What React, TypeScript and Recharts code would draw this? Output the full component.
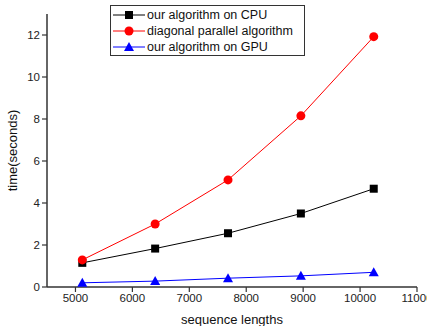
import React from 'react';
import { LineChart, Line, XAxis, YAxis } from 'recharts';

const lengths = [5120, 6400, 7680, 8960, 10240];
const cpuTimes = [1.15, 1.83, 2.56, 3.5, 4.68];
const diagonalTimes = [1.29, 3.0, 5.1, 8.15, 11.92];
const gpuTimes = [0.2, 0.28, 0.42, 0.53, 0.7];
const seriesNames = ['our algorithm on CPU', 'diagonal parallel algorithm', 'our algorithm on GPU'];
const xMajorTicks = [5000, 6000, 7000, 8000, 9000, 10000, 11000];
const xMinorTicks = [4500, 5500, 6500, 7500, 8500, 9500, 10500];
const yMajorTicks = [0, 2, 4, 6, 8, 10, 12];
const yMinorTicks = [1, 3, 5, 7, 9, 11, 13];

const data = lengths.map((len, i) => ({
  len,
  cpu: cpuTimes[i],
  diag: diagonalTimes[i],
  gpu: gpuTimes[i],
}));

const FONT = 'Liberation Sans, Arial, sans-serif';
const AXIS = '#333';

const Square = (props: any) => {
  const { cx, cy } = props;
  if (cx == null || cy == null) return null;
  return <rect x={cx - 4} y={cy - 4} width={8} height={8} fill="#000" />;
};
const Circle = (props: any) => {
  const { cx, cy } = props;
  if (cx == null || cy == null) return null;
  return <circle cx={cx} cy={cy} r={4.5} fill="#ff0000" />;
};
const Triangle = (props: any) => {
  const { cx, cy } = props;
  if (cx == null || cy == null) return null;
  return <polygon points={`${cx},${cy - 5} ${cx - 5},${cy + 4} ${cx + 5},${cy + 4}`} fill="#0000ff" />;
};

const legendItems = [
  { name: seriesNames[0], color: '#000', marker: 'square' },
  { name: seriesNames[1], color: '#ff0000', marker: 'circle' },
  { name: seriesNames[2], color: '#0000ff', marker: 'triangle' },
];

const LegendBox = () => (
  <div
    style={{
      position: 'absolute',
      left: 110,
      top: 5,
      border: '1px solid #333',
      width: 195,
      height: 51,
      background: '#fff',
      fontFamily: FONT,
      fontSize: 12.5,
      color: '#111',
      boxSizing: 'border-box',
      paddingTop: 1,
    }}
  >
    {legendItems.map((it) => (
      <div key={it.name} style={{ display: 'flex', alignItems: 'center', height: 16, whiteSpace: 'nowrap' }}>
        <svg width={34} height={12} style={{ marginLeft: 1 }}>
          <line x1={1} y1={6} x2={33} y2={6} stroke={it.color} strokeWidth={1} />
          {it.marker === 'square' && <rect x={13} y={2} width={8} height={8} fill={it.color} />}
          {it.marker === 'circle' && <circle cx={17} cy={6} r={4.5} fill={it.color} />}
          {it.marker === 'triangle' && <polygon points="17,1 12,10 22,10" fill={it.color} />}
        </svg>
        <span style={{ marginLeft: 1 }}>{it.name}</span>
      </div>
    ))}
  </div>
);

export default function App() {
  return (
    <div style={{ position: 'absolute', left: 0, top: 0, width: 427, height: 326, background: '#fff' }}>
      <LineChart width={427} height={326} data={data} margin={{ top: 14, right: 10, bottom: 0, left: 0 }}>
        <XAxis
          xAxisId="minor"
          dataKey="len"
          type="number"
          domain={[4500, 11000]}
          ticks={xMinorTicks}
          tickSize={3}
          height={0}
          axisLine={false}
          tick={false}
          tickLine={{ stroke: AXIS, strokeWidth: 1.2 }}
          interval={0}
          allowDataOverflow
        />
        <XAxis
          xAxisId="main"
          dataKey="len"
          type="number"
          domain={[4500, 11000]}
          ticks={xMajorTicks}
          tickSize={5}
          height={39}
          stroke={AXIS}
          strokeWidth={1.5}
          tick={{ fontSize: 11.5, fontFamily: FONT, fill: '#222' }}
          tickLine={{ stroke: AXIS, strokeWidth: 1.2 }}
          interval={0}
          allowDataOverflow
          label={{ value: 'sequence lengths', position: 'insideBottom', offset: 2, fontSize: 13, fontFamily: FONT, fill: '#111' }}
        />
        <YAxis
          yAxisId="main"
          type="number"
          domain={[0, 13]}
          ticks={yMajorTicks}
          tickSize={5}
          width={47}
          stroke={AXIS}
          strokeWidth={1.5}
          tick={{ fontSize: 11.5, fontFamily: FONT, fill: '#222' }}
          tickLine={{ stroke: AXIS, strokeWidth: 1.2 }}
          interval={0}
          allowDataOverflow
          label={{ value: 'time(seconds)', angle: -90, position: 'insideLeft', offset: 12, fontSize: 13, fontFamily: FONT, fill: '#111', style: { textAnchor: 'middle' } }}
        />
        <YAxis
          yAxisId="minor"
          type="number"
          domain={[0, 13]}
          ticks={yMinorTicks}
          tickSize={3}
          width={0}
          axisLine={false}
          tick={false}
          tickLine={{ stroke: AXIS, strokeWidth: 1.2 }}
          interval={0}
          allowDataOverflow
        />
        <Line xAxisId="main" yAxisId="main" dataKey="cpu" name={seriesNames[0]} stroke="#000" strokeWidth={1} dot={<Square />} activeDot={false} isAnimationActive={false} />
        <Line xAxisId="main" yAxisId="main" dataKey="diag" name={seriesNames[1]} stroke="#ff0000" strokeWidth={1} dot={<Circle />} activeDot={false} isAnimationActive={false} />
        <Line xAxisId="main" yAxisId="main" dataKey="gpu" name={seriesNames[2]} stroke="#0000ff" strokeWidth={1} dot={<Triangle />} activeDot={false} isAnimationActive={false} />
      </LineChart>
      <LegendBox />
    </div>
  );
}
